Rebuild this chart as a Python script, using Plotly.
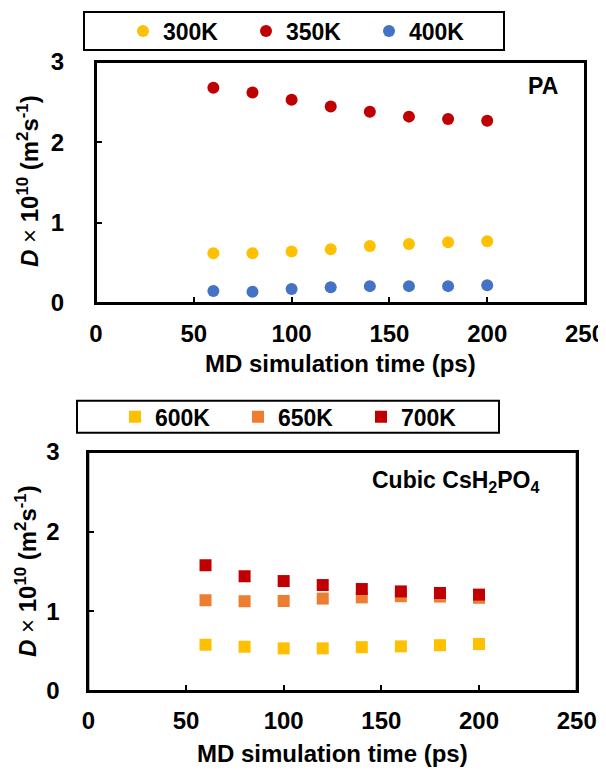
import plotly.graph_objects as go

# page body has an 8px default margin -> figure is drawn 8px right/down
OFF = 8
W, H = 606 - OFF, 771 - OFF

# ---- data ----
time_ps = [60, 80, 100, 120, 140, 160, 180, 200]

pa_labels = ["300K", "350K", "400K"]
pa_300 = [0.62, 0.62, 0.64, 0.67, 0.71, 0.735, 0.755, 0.77]
pa_350 = [2.68, 2.62, 2.53, 2.445, 2.38, 2.32, 2.29, 2.27]
pa_400 = [0.15, 0.14, 0.175, 0.195, 0.21, 0.21, 0.21, 0.22]

cs_labels = ["600K", "650K", "700K"]
cs_600 = [0.58, 0.555, 0.535, 0.535, 0.55, 0.56, 0.575, 0.59]
cs_650 = [1.14, 1.125, 1.13, 1.16, 1.175, 1.19, 1.185, 1.17]
cs_700 = [1.58, 1.44, 1.38, 1.33, 1.28, 1.25, 1.23, 1.21]

x_ticks = [0, 50, 100, 150, 200, 250]
y_ticks = [0, 1, 2, 3]

pa_colors = ["#FFC000", "#C00000", "#4472C4"]
cs_colors = ["#FFC000", "#ED7D31", "#C00000"]

FONT = "Liberation Sans, Arial, sans-serif"


def px(x):
    return (x - OFF) / W


def py(y):
    return 1 - (y - OFF) / H


fig = go.Figure()

for lab, vals, col in zip(pa_labels, [pa_300, pa_350, pa_400], pa_colors):
    fig.add_trace(go.Scatter(
        x=time_ps, y=vals, mode="markers", name=lab,
        marker=dict(symbol="circle", size=12, color=col, line=dict(width=0)),
        xaxis="x", yaxis="y", legend="legend"))

for lab, vals, col in zip(cs_labels, [cs_600, cs_650, cs_700], cs_colors):
    fig.add_trace(go.Scatter(
        x=time_ps, y=vals, mode="markers", name=lab,
        marker=dict(symbol="square", size=12, color=col, line=dict(width=0)),
        xaxis="x2", yaxis="y2", legend="legend2"))

tickfont = dict(family=FONT, size=24, color="black", weight="bold")


def xaxis(domain, anchor, standoff):
    return dict(domain=domain, anchor=anchor, range=[0, 250], tickvals=x_ticks,
                ticks="inside", ticklen=6, tickwidth=2, tickcolor="black",
                showline=True, linewidth=2, linecolor="black", mirror=True,
                showgrid=False, zeroline=False, tickfont=tickfont,
                automargin=False, ticklabelstandoff=standoff)


def yaxis(domain, anchor, standoff):
    return dict(domain=domain, anchor=anchor, range=[0, 3], tickvals=y_ticks,
                ticks="inside", ticklen=6, tickwidth=2, tickcolor="black",
                showline=True, linewidth=2, linecolor="black", mirror=True,
                showgrid=False, zeroline=False, tickfont=tickfont,
                automargin=False, ticklabelstandoff=standoff)


top_x = [px(96), px(585)]
top_y = [py(303), py(62)]
bot_x = [px(88.3), px(576.7)]
bot_y = [py(691), py(452)]

legfont = dict(family=FONT, size=23, color="black", weight="bold")

fig.update_layout(
    width=W, height=H,
    margin=dict(l=0, r=0, t=0, b=0),
    paper_bgcolor="white", plot_bgcolor="white",
    font=dict(family=FONT, color="black"),
    xaxis=xaxis(top_x, "y", 8), yaxis=yaxis(top_y, "x", 25),
    xaxis2=xaxis(bot_x, "y2", 7), yaxis2=yaxis(bot_y, "x2", 22),
    legend=dict(orientation="h", x=px(123), xanchor="left", y=py(31), yanchor="middle",
                entrywidth=78, font=legfont, bgcolor="rgba(0,0,0,0)", borderwidth=0),
    legend2=dict(orientation="h", x=px(115), xanchor="left", y=py(416.7), yanchor="middle",
                 entrywidth=78, font=legfont, bgcolor="rgba(0,0,0,0)", borderwidth=0),
    showlegend=True,
)

# plot frames (drawn explicitly as well)
for xr, yr in [("x domain", "y domain"), ("x2 domain", "y2 domain")]:
    fig.add_shape(type="rect", xref=xr, yref=yr, x0=0, x1=1, y0=0, y1=1,
                  line=dict(color="black", width=2))

# legend frames
fig.add_shape(type="rect", xref="paper", yref="paper",
              x0=px(84), x1=px(504), y0=py(50), y1=py(12),
              line=dict(color="black", width=2))
fig.add_shape(type="rect", xref="paper", yref="paper",
              x0=px(77), x1=px(499), y0=py(432.7), y1=py(400.7),
              line=dict(color="black", width=2))

ytitle = "<i>D</i><span style='font-weight:normal'> × </span>10<sup>10</sup> (m<sup>2</sup>s<sup>-1</sup>)"
titlefont = dict(family=FONT, size=24, color="black", weight="bold")

annos = [
    dict(text="MD simulation time (ps)", x=px(340.5), y=py(363)),
    dict(text="MD simulation time (ps)", x=px(332.5), y=py(753)),
    dict(text=ytitle, x=px(28), y=py(181), textangle=-90),
    dict(text=ytitle, x=px(26), y=py(571), textangle=-90),
    dict(text="PA", x=px(542.5), y=py(86), font=dict(size=23)),
    dict(text="Cubic CsH<sub>2</sub>PO<sub>4</sub>", x=px(456), y=py(481), font=dict(size=23)),
]
for a in annos:
    f = dict(titlefont)
    f.update(a.pop("font", {}))
    fig.add_annotation(xref="paper", yref="paper", xanchor="center", yanchor="middle",
                       showarrow=False, font=f, **a)

fig.write_html("out.html")
